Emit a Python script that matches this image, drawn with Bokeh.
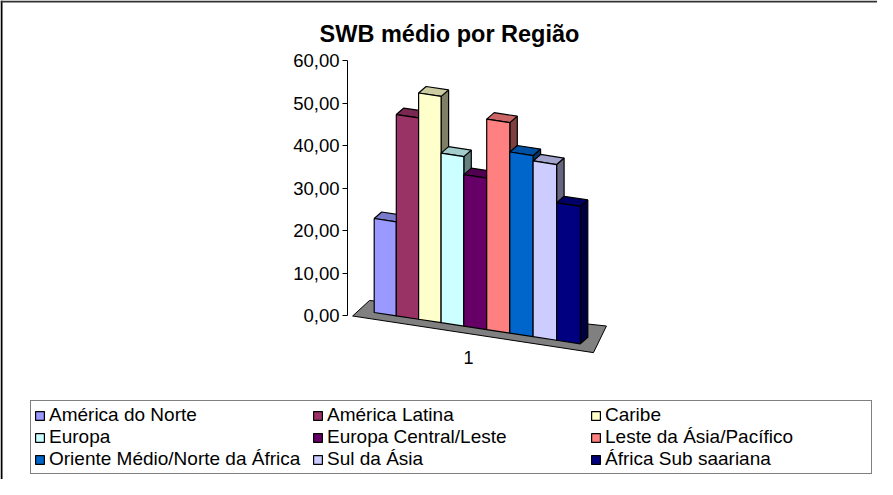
from bokeh.plotting import figure
from bokeh.models import (Range1d, LinearAxis, FixedTicker, CustomJSTickFormatter,
                          Legend, LegendItem, Label, Span)
from bokeh.embed import file_html
from bokeh.resources import INLINE

# ---------------- data ----------------
title = "SWB médio por Região"
regions = ["América do Norte", "América Latina", "Caribe",
           "Europa", "Europa Central/Leste", "Leste da Ásia/Pacífico",
           "Oriente Médio/Norte da África", "Sul da Ásia", "África Sub saariana"]
swb = [22.8, 47.8, 52.6, 38.6, 33.8, 46.0, 38.8, 36.9, 28.3]
colors = ["#9999FF", "#993366", "#FFFFCC", "#CCFFFF", "#660066",
          "#FF8080", "#0066CC", "#CCCCFF", "#000080"]
value_ticks = [0, 10, 20, 30, 40, 50, 60]
category_label = "1"

# ---------------- layout / projection ----------------
W, H = 877, 479
FONT = "Liberation Sans"
PX_PER_UNIT = 4.25      # axis scale (px per value unit)
Y0_PAGE = 323.0         # page y of value 0 on the axis


def y_of(page_y):
    return (Y0_PAGE - page_y) / PX_PER_UNIT


X0, BASE0, SLOPE = 381.7, 320.0, 0.152
PITCH, GROW = 22.0, 0.1
DX, DY = 7.5, 6.5


def edge(t):
    return X0 + PITCH * t + GROW * t * t


def proj(t, d, z=0.0, s=0.0):
    x = edge(t)
    px = x + DX * d
    py = BASE0 + SLOPE * (x - X0) - DY * d - z * s
    return px, y_of(py)


def shade(hexc, f):
    r, g, b = int(hexc[1:3], 16), int(hexc[3:5], 16), int(hexc[5:7], 16)
    return "#%02x%02x%02x" % (int(r * f), int(g * f), int(b * f))


p = figure(width=W, height=H, x_range=Range1d(8, 8 + W),
           y_range=Range1d(y_of(8 + H), y_of(8)),
           output_backend="svg", toolbar_location=None,
           x_axis_type=None, y_axis_type=None, min_border=0)
p.outline_line_color = None
p.background_fill_color = "white"
p.border_fill_color = "white"

# floor
floor_pts = [proj(-0.68, -0.89), proj(9.83, -0.89), proj(9.2, 2.85), proj(-0.72, 1.48)]
p.patch([q[0] for q in floor_pts], [q[1] for q in floor_pts],
        fill_color="#808080", line_color="black", line_width=1)

# bars (painter's order: left = far, right = near)
items = []
for i, (name, v, c) in enumerate(zip(regions, swb, colors)):
    s = 4.12 + 0.004 * (edge(i + 0.5) - 392)
    tl, tr = i, i + 1
    side = [proj(tr, 0, 0, s), proj(tr, 1, 0, s), proj(tr, 1, v, s), proj(tr, 0, v, s)]
    top = [proj(tl, 0, v, s), proj(tr, 0, v, s), proj(tr, 1, v, s), proj(tl, 1, v, s)]
    front = [proj(tl, 0, 0, s), proj(tr, 0, 0, s), proj(tr, 0, v, s), proj(tl, 0, v, s)]
    p.patches([[q[0] for q in side], [q[0] for q in top]],
              [[q[1] for q in side], [q[1] for q in top]],
              fill_color=[shade(c, 0.5), shade(c, 0.8)],
              line_color="black", line_width=1.2)
    r = p.patch([q[0] for q in front], [q[1] for q in front],
                fill_color=c, line_color="black", line_width=1.2)
    items.append(LegendItem(label=name, renderers=[r]))

# value axis
axis = LinearAxis(fixed_location=355, bounds=(0, 60),
                  ticker=FixedTicker(ticks=value_ticks),
                  formatter=CustomJSTickFormatter(code="return tick.toFixed(2).replace('.', ',')"),
                  major_label_text_font=FONT, major_label_text_font_size="18.5px",
                  major_label_text_color="black",
                  major_tick_out=5, major_tick_in=0, minor_tick_out=0, minor_tick_in=0,
                  axis_line_color="black", major_tick_line_color="black",
                  major_label_standoff=3)
p.add_layout(axis, "left")

# category label
cx, cy = proj(4.5, -0.89)
p.add_layout(Label(x=cx, y=cy - 24 / PX_PER_UNIT, text=category_label,
                   text_align="center", text_baseline="alphabetic",
                   text_font=FONT, text_font_size="18px", text_color="black"))

# title
p.add_layout(Label(x=457, y=y_of(41), text=title, text_align="center",
                   text_baseline="alphabetic", text_font=FONT,
                   text_font_size="23.5px", text_font_style="bold", text_color="black"))

# chart-area border (left and top visible)
p.add_layout(Span(location=9, dimension="height", line_color="black", line_width=2))
p.add_layout(Span(location=y_of(9), dimension="width", line_color="#333333", line_width=2))

legend = Legend(items=items, ncols=3, orientation="horizontal", location=(30, 5),
                margin=0, padding=3, spacing=0,
                glyph_width=11, glyph_height=11, label_standoff=4,
                label_width=263,
                label_text_font=FONT, label_text_font_size="19px",
                label_text_color="black",
                border_line_color="black", border_line_width=1,
                background_fill_color="white", background_fill_alpha=1)
p.add_layout(legend)

open("out.html", "w").write(file_html(p, INLINE))
